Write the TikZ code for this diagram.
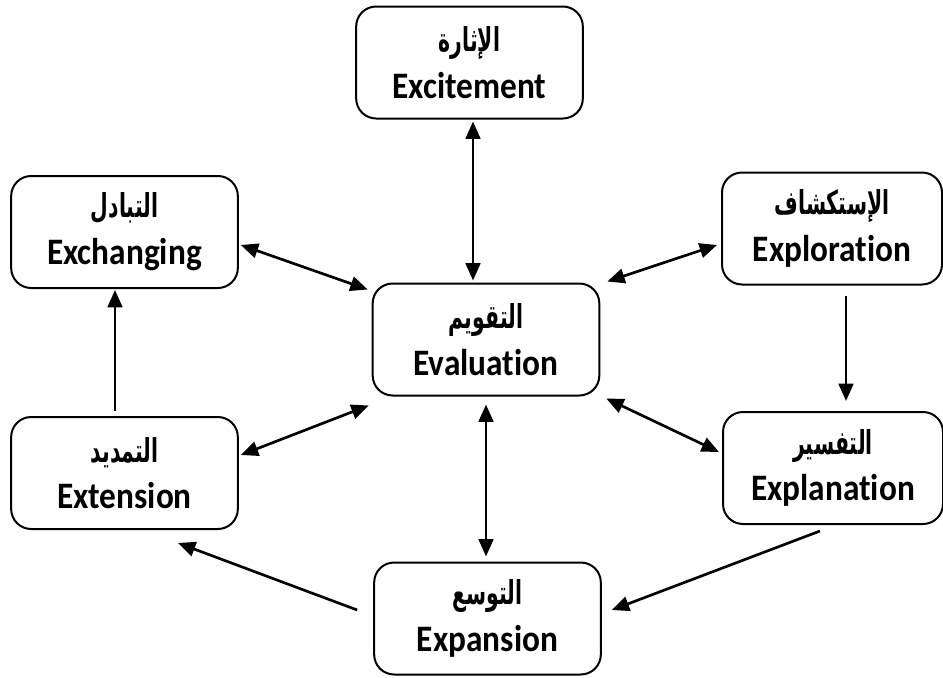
\documentclass[tikz,border=0pt]{standalone}
\usepackage{fontspec}
\setmainfont{Carlito}[Ligatures=NoCommon]
\newfontfamily\arabicfont[Script=Arabic]{DejaVu Sans}
\TeXXeTstate=1
\usetikzlibrary{arrows.meta,calc}
\tikzset{
  box/.style={draw, line width=1.5pt, rounded corners=15pt, minimum width=170pt, minimum height=84pt,
    align=center, inner sep=0pt, font=\fontsize{25}{30}\selectfont\bfseries},
  rbox/.style={box, minimum width=165pt},
  link/.style={line width=2pt, -{Triangle[length=13pt,width=11pt]}},
  dbl/.style={line width=2pt, {Triangle[length=13pt,width=11pt]}-{Triangle[length=13pt,width=11pt]}},
}
\newcommand\artxt[1]{\scalebox{0.9}[1.45]{\arabicfont\fontsize{17}{20}\selectfont\bfseries\beginR #1\endR}}
\newcommand\entxt[1]{\scalebox{1}[1.12]{#1}}
\begin{document}
\begin{tikzpicture}[x=0.75pt,y=-0.75pt]
\useasboundingbox (0,0) rectangle (943,678);
\node[box]  (exc)  at (469.5,62.5) {\artxt{الإثارة}\\[5pt]\entxt{Excitement}};
\node[box]  (exch) at (124.5,232)  {\artxt{التبادل}\\[5pt]\entxt{Exchanging}};
\node[rbox] (expl) at (832,228.5)  {\artxt{الإستكشاف}\\[5pt]\entxt{Exploration}};
\node[box]  (eval) at (486,339.5)  {\artxt{التقويم}\\[5pt]\entxt{Evaluation}};
\node[box]  (ext)  at (124.5,473)  {\artxt{التمديد}\\[5pt]\entxt{Extension}};
\node[rbox] (expn) at (833,468)    {\artxt{التفسير}\\[5pt]\entxt{Explanation}};
\node[box]  (exps) at (487.5,618.5){\artxt{التوسع}\\[5pt]\entxt{Expansion}};

\draw[dbl] ($(exc.south)+(3.5,2)$) -- ($(eval.north)+(-13,-2)$);
\draw[dbl] ($(exch.east)+(2,13)$) -- ($(eval.north west)+(-4,7)$);
\draw[dbl] ($(eval.north east)+(7,-1)$) -- ($(expl.west)+(-4,16.5)$);
\draw[link] ($(expl.south)+(14,10)$) -- ($(expn.north)+(13,-10)$);
\draw[dbl] ($(eval.south east)+(6,2)$) -- ($(expn.west)+(-3,-16)$);
\draw[dbl] ($(eval.south)+(0,8)$) -- ($(exps.north)+(-1.5,-5)$);
\draw[link] ($(expn.south)+(-13,6)$) -- ($(exps.east)+(10,-8.5)$);
\draw[link] ($(exps.west)+(-16,-8.5)$) -- ($(ext.south)+(53.5,13)$);
\draw[dbl] ($(ext.east)+(2,-18)$) -- ($(eval.south west)+(-3,9)$);
\draw[link] ($(ext.north)+(-9.5,-5)$) -- ($(exch.south)+(-9.5,1)$);
\end{tikzpicture}
\end{document}
